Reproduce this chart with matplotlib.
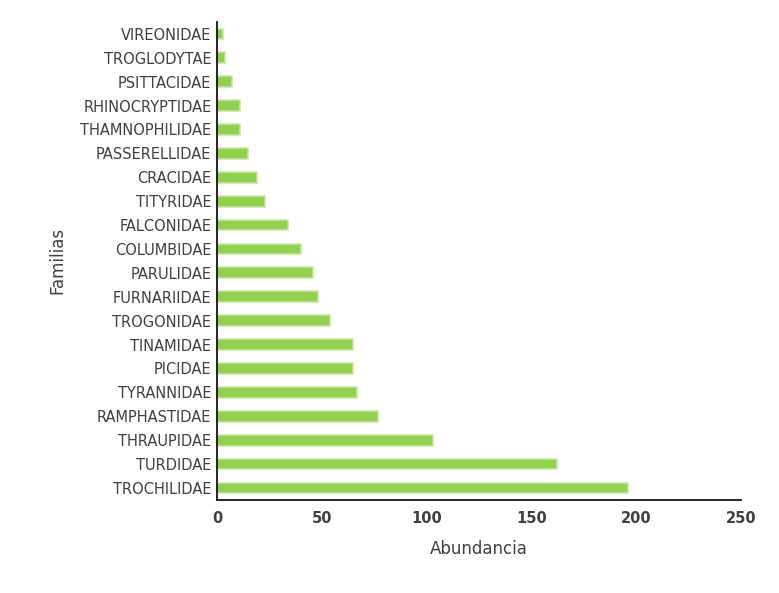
import matplotlib
matplotlib.use("Agg")
import matplotlib.pyplot as plt

FAMILIES = [
    "TROCHILIDAE", "TURDIDAE", "THRAUPIDAE", "RAMPHASTIDAE", "TYRANNIDAE",
    "PICIDAE", "TINAMIDAE", "TROGONIDAE", "FURNARIIDAE", "PARULIDAE",
    "COLUMBIDAE", "FALCONIDAE", "TITYRIDAE", "CRACIDAE", "PASSERELLIDAE",
    "THAMNOPHILIDAE", "RHINOCRYPTIDAE", "PSITTACIDAE", "TROGLODYTAE", "VIREONIDAE",
]
ABUNDANCE = [196, 162, 103, 77, 67, 65, 65, 54, 48, 46,
             40, 34, 23, 19, 15, 11, 11, 7, 4, 3]
X_TICKS = [0, 50, 100, 150, 200, 250]

fig = plt.figure(figsize=(7.79, 5.93), dpi=100)
ax = fig.add_axes([0.2786, 0.157, 0.6726, 0.806])

ax.barh(range(len(FAMILIES)), ABUNDANCE, height=0.45,
        color="#92D050", edgecolor="#C6E6A4", linewidth=1.2)

ax.set_ylim(-0.5, len(FAMILIES) - 0.5)
ax.set_xlim(0, 250)
ax.set_xticks(X_TICKS)
ax.set_yticks(range(len(FAMILIES)))
ax.set_yticklabels(FAMILIES)

for s in ("top", "right"):
    ax.spines[s].set_visible(False)
for s in ("left", "bottom"):
    ax.spines[s].set_color("#000000")
    ax.spines[s].set_linewidth(1.2)

ax.tick_params(axis="y", length=0, labelsize=10.5, labelcolor="#404040", pad=4)
ax.tick_params(axis="x", length=0, labelsize=10.5, labelcolor="#404040", pad=8)
for lbl in ax.get_xticklabels():
    lbl.set_fontweight("bold")

ax.set_xlabel("Abundancia", fontsize=12, color="#404040", labelpad=10)
ax.set_ylabel("Familias", fontsize=12, color="#404040", labelpad=10)

fig.savefig("out.png", dpi=100)
